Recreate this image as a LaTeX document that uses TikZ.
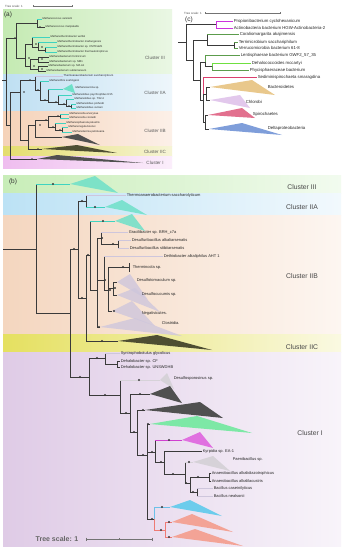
\documentclass[tikz,border=0pt]{standalone}
\usepackage{fontspec}
\setmainfont{Liberation Sans}
\usetikzlibrary{calc}
\definecolor{brc}{HTML}{3A3A3A}
\definecolor{cyl}{HTML}{3FD3C0}
\definecolor{cyt}{HTML}{6EE0C8}
\definecolor{lav}{HTML}{CEC6DC}
\definecolor{lgr}{HTML}{D6D2D8}
\definecolor{dkt}{HTML}{505050}
\definecolor{olv}{HTML}{4E4E32}
\definecolor{mgl}{HTML}{D040D0}
\definecolor{mgt}{HTML}{E070E0}
\definecolor{grt}{HTML}{7DE8A6}
\definecolor{cbt}{HTML}{6CCCEC}
\definecolor{cbl}{HTML}{6CC0E8}
\definecolor{rdl}{HTML}{EE7B74}
\definecolor{rdt}{HTML}{F3A396}
\definecolor{cmg}{HTML}{CC33DD}
\definecolor{cgr}{HTML}{5C9C4C}
\definecolor{cbg}{HTML}{6FE040}
\definecolor{crd}{HTML}{DA3F6E}
\definecolor{ctan}{HTML}{E9C88C}
\definecolor{clav}{HTML}{E2C8EC}
\definecolor{cpk}{HTML}{E2708E}
\definecolor{cblu}{HTML}{7F9EDA}
\definecolor{gAL}{HTML}{C4EAB2}\definecolor{gAR}{HTML}{EAF7E4}
\definecolor{bAL}{HTML}{BEDFF2}\definecolor{bAR}{HTML}{EEF6FB}
\definecolor{pAL}{HTML}{F5D2B8}\definecolor{pAR}{HTML}{FCF0E8}
\definecolor{yAL}{HTML}{E4DD6E}\definecolor{yAR}{HTML}{F6F4D6}
\definecolor{mAL}{HTML}{EFBDEF}\definecolor{mAR}{HTML}{FBEEFB}
\definecolor{gBL}{HTML}{C8EDB8}\definecolor{gBR}{HTML}{F2FBEF}
\definecolor{bBL}{HTML}{BCE2F5}\definecolor{bBR}{HTML}{F2F9FD}
\definecolor{pBL}{HTML}{F4D6BF}\definecolor{pBR}{HTML}{FDF6F1}
\definecolor{yBL}{HTML}{E5E060}\definecolor{yBR}{HTML}{FAF9E2}
\definecolor{mBL}{HTML}{DFCBE6}\definecolor{mBR}{HTML}{F8F4FA}
\newcommand\tedge[3]{\draw[br] (#2) |- (#3);\draw[br,#1] (#2|-#3) -- (#3);}
\newcommand\ttri[4]{\fill[#1] (#2) -- (#3) -- (#4) -- cycle;}
\newcommand\tdot[1]{\fill[brc] (#1) circle (\dotr);}
\newcommand\dotr{0.9}
\begin{document}
\begin{tikzpicture}[x=1pt,y=-1pt,
  br/.style={draw=brc,line width=0.45pt},
  la/.style={font=\fontsize{2.7}{3}\selectfont,anchor=west,inner sep=0.4pt,text=black!85},
  lb/.style={font=\fontsize{4}{4.5}\selectfont,anchor=west,inner sep=0.6pt,text=black!85},
  lc/.style={font=\fontsize{4.3}{5}\selectfont,anchor=west,inner sep=0.6pt,text=black!85},
  cla/.style={font=\fontsize{4.6}{5}\selectfont,text=black!65},
  clb/.style={font=\fontsize{6.8}{8}\selectfont,text=black!72},
  pl/.style={font=\fontsize{6.5}{8}\selectfont,text=black!80},
  tsc/.style={font=\fontsize{3}{3.5}\selectfont,text=black!70},
  sbar/.style={draw=black!55,line width=0.35pt}]
\useasboundingbox (0,0) rectangle (344,550);
\fill[white] (0,0) rectangle (344,550);
%================ PANEL (a) ================
\shade[left color=gAL,right color=gAR] (3,9) rectangle (172,74);
\shade[left color=bAL,right color=bAR] (3,74) rectangle (172,111);
\shade[left color=pAL,right color=pAR] (3,111) rectangle (172,146);
\shade[left color=yAL,right color=yAR] (3,146) rectangle (172,156);
\shade[left color=mAL,right color=mAR] (3,156) rectangle (172,168);
\node[tsc] (tsa) at (14,6) {Tree scale: 1};
\coordinate (tsa1) at (33,6); \coordinate (tsa2) at (72,6);
\draw[sbar] (tsa1) -- (tsa2);
\draw[sbar] (tsa1) ++(0,-1) -- ++(0,2); \draw[sbar] (tsa2) ++(0,-1) -- ++(0,2);
\node[pl] (pa) at (8,15) {(a)};
\node[cla] (ca3) at (155,58) {Cluster III};
\node[cla] (ca2a) at (155,93) {Cluster IIA};
\node[cla] (ca2b) at (155,131) {Cluster IIB};
\node[cla] (ca2c) at (155,152) {Cluster IIC};
\node[cla] (ca1) at (155,163) {Cluster I};
% tree (a)
\coordinate (ra0) at (2,80); \coordinate (ra) at (6,80);
\draw[br] (ra0) -- (ra);
\coordinate (a1) at (16,38); \coordinate (b1) at (10,125);
\draw[br] (ra) |- (a1); \draw[br] (ra) |- (b1);
\coordinate (a11) at (37,23); \coordinate (a12) at (25,58);
\draw[br] (a1) |- (a11); \draw[br] (a1) |- (a12);
\node[la] (l1) at (42,19) {Methanococcus vannielii};
\node[la] (l2) at (45,27) {Methanococcus maripaludis};
\tedge{cyl}{a11}{l1.west} \tedge{brc}{a11}{l2.west}
\coordinate (a121) at (32,44); \coordinate (a122) at (30,66);
\draw[br] (a12) |- (a121); \draw[br] (a12) |- (a122);
\node[la] (l3) at (50,37) {Methanothermobacter wolfeii};
\coordinate (a1211) at (38,47);
\tedge{cyl}{a121}{l3.west} \draw[br] (a121) |- (a1211);
\node[la] (l4) at (57,42) {Methanothermobacter marburgensis};
\coordinate (a12111) at (45,50);
\tedge{cyl}{a1211}{l4.west} \draw[br] (a1211) |- (a12111);
\node[la] (l5) at (57,47) {Methanothermobacter sp. CMTCaM1};
\node[la] (l6) at (57,52) {Methanothermobacter thermautotrophicus};
\tedge{cyl}{a12111}{l5.west} \tedge{cyl}{a12111}{l6.west}
\coordinate (a1221) at (38,59); \coordinate (a1222) at (38,69);
\draw[br] (a122) |- (a1221); \draw[br] (a122) |- (a1222);
\node[la] (l7) at (49,57) {Methanobacterium formicicum};
\node[la] (l8) at (49,62) {Methanobacterium sp. MB1};
\node[la] (l9) at (48,66) {Methanobacterium sp. MZ-A1};
\node[la] (l10) at (46,71) {Methanobacterium subterraneum};
\tedge{brc}{a1221}{l7.west} \tedge{brc}{a1221}{l8.west}
\tedge{brc}{a1222}{l9.west} \tedge{brc}{a1222}{l10.west}
\coordinate (ac) at (20,92); \coordinate (ad) at (37,159);
\draw[br] (b1) |- (ac); \draw[br] (b1) |- (ad);
\coordinate (ae) at (35,80); \coordinate (aL) at (28,140);
\draw[br] (ac) |- (ae); \draw[br] (ac) |- (aL);
\node[la] (l11) at (63,76) {Thermoanaerobacterium saccharolyticum};
\coordinate (af) at (40,90);
\tedge{lav}{ae}{l11.west} \draw[br] (ae) |- (af);
\node[la] (l12) at (49,81) {Methanothrix soehngenii};
\coordinate (ag) at (48,100);
\tedge{cyl}{af}{l12.west} \draw[br] (af) |- (ag);
\coordinate (amsar) at (63,89); \coordinate (ah) at (58,102);
\tedge{cyl}{ag}{amsar} \draw[br] (ag) |- (ah);
\ttri{cyt}{63,89}{72,84}{75,93}
\node[la] (l13) at (75,88) {Methanosarcina sp.};
\node[la] (l14) at (72,95) {Methanolobus psychrophilus R15};
\coordinate (ai) at (66,104);
\tedge{cyl}{ah}{l14.west} \draw[br] (ah) |- (ai);
\node[la] (l15) at (74,99) {Methanolobus sp. T82-4};
\coordinate (aj) at (71,106);
\tedge{cyl}{ai}{l15.west} \draw[br] (ai) |- (aj);
\node[la] (l16) at (76,104) {Methanolobus profundi};
\node[la] (l17) at (76,108) {Methanolobus vulcani};
\tedge{cyl}{aj}{l16.west} \tedge{cyl}{aj}{l17.west}
\coordinate (aiic) at (42,149); \coordinate (am) at (35,125);
\draw[br] (aL) |- (aiic); \draw[br] (aL) |- (am);
\coordinate (an) at (48,120); \coordinate (at23) at (62,137);
\draw[br] (am) |- (an); \draw[br] (am) |- (at23);
\coordinate (ao) at (60,116); \coordinate (ap) at (55,127);
\draw[br] (an) |- (ao); \draw[br] (an) |- (ap);
\node[la] (l18) at (69,114) {Methanocella arvoryzae};
\node[la] (l19) at (69,118) {Methanocella conradii};
\tedge{cyl}{ao}{l18.west} \tedge{cyl}{ao}{l19.west}
\node[la] (l20) at (66,123) {Methanosphaerula palustris};
\coordinate (aq) at (62,130);
\tedge{cyl}{ap}{l20.west} \draw[br] (ap) |- (aq);
\node[la] (l21) at (68,127) {Methanoregula boonei};
\node[la] (l22) at (72,132) {Methanolacinia petrolearia};
\tedge{cyl}{aq}{l21.west} \tedge{cyl}{aq}{l22.west}
\ttri{dkt}{62,137}{78,134}{100,145}
\ttri{olv}{42,149}{77,145}{117,153}
\ttri{dkt}{37,159}{57,155}{143,163}
\foreach \p in {{15,38},{40,27},{29,58},{36,44},{42,47},{34,66},{42,59},{42,69},{38,90},{45,100},{56,102},{64,104},{69,106},{38,149},{32,159},{40,125},{46,120},{53,127},{60,130},{24,92},{30,80},{58,116}} {\tdot{\p}}
%================ PANEL (c) ================
\node[pl] (pc) at (189,20) {(c)};
\node[tsc] (tsc1) at (193,13) {Tree scale: 1};
\coordinate (tsc2) at (205,13); \coordinate (tsc3) at (280,13);
\draw[sbar] (tsc2) -- (tsc3);
\draw[sbar] (tsc2) ++(0,-1) -- ++(0,2); \draw[sbar] (tsc3) ++(0,-1) -- ++(0,2);
\begin{scope}[br/.append style={line width=0.6pt}]
\coordinate (rc0) at (178,42); \coordinate (rc) at (186,42);
\draw[br] (rc0) -- (rc);
\coordinate (cca) at (216,24); \coordinate (ccb) at (193,60);
\draw[br] (rc) |- (cca); \draw[br] (rc) |- (ccb);
\node[lc] (c1) at (233,21) {Propionibacterium cyclohexanicum};
\node[lc] (c2) at (233,28) {Actinobacteria bacterium HGW-Actinobacteria-2};
\draw[br,cmg,line width=1pt] (cca) |- (c1.west); \draw[br,cmg,line width=1pt] (cca) |- (c2.west);
\coordinate (ccc) at (207,40); \coordinate (ccd) at (200,80);
\draw[br] (ccb) |- (ccc); \draw[br] (ccb) |- (ccd);
\node[lc] (c3) at (239,34) {Coraliomargarita akajimensis};
\coordinate (cce) at (234,45);
\tedge{cgr}{ccc}{c3.west} \draw[br] (ccc) |- (cce);
\node[lc] (c4) at (238,42) {Terrimicrobium sacchariphilum};
\node[lc] (c5) at (238,48) {Verrucomicrobia bacterium 61-8};
\tedge{cgr}{cce}{c4.west} \tedge{cgr}{cce}{c5.west}
\coordinate (ccf) at (205,62); \coordinate (ccg) at (203,100);
\draw[br] (ccd) |- (ccf); \draw[br] (ccd) |- (ccg);
\node[lc] (c6) at (240,55) {Lentisphaerae bacterium GWF2\_57\_35};
\coordinate (cch) at (212,66);
\draw[br,cgr,line width=1pt] (ccf) |- (c6.west); \draw[br] (ccf) |- (cch);
\node[lc] (c7) at (251,63) {Dehalococcoides mccartyi};
\node[lc] (c8) at (249,70) {Phycisphaeraceae bacterium};
\draw[br,cbg,line width=1pt] (cch) |- (c7.west); \draw[br,cgr,line width=1pt] (cch) |- (c8.west);
\node[lc] (c9) at (257,77) {Sediminispirochaeta smaragdina};
\coordinate (cci) at (206,94); \coordinate (ccj) at (205,122);
\draw[br,crd,line width=1pt] (ccg) |- (c9.west); \draw[br] (ccg) |- (cci); \draw[br] (ccg) |- (ccj);
\coordinate (cbac) at (210,87); \coordinate (cchl) at (210,100);
\coordinate (cspi) at (208,115); \coordinate (cdel) at (209,129);
\draw[br] (cci) |- (cbac); \draw[br] (cci) |- (cchl);
\draw[br] (ccj) |- (cspi); \draw[br] (ccj) |- (cdel);
\end{scope}
\ttri{ctan}{210,87}{252,80}{275,95}
\ttri{clav}{210,100}{240,95}{250,108}
\ttri{cpk}{208,115}{242,108}{255,118}
\ttri{cblu}{209,129}{242,123}{282,135}
\node[lc] (g1) at (267,87) {Bacteroidetes};
\node[lc] (g2) at (245,102) {Chlorobi};
\node[lc] (g3) at (252,114) {Spirochaetes};
\node[lc] (g4) at (267,128) {Deltaproteobacteria};
%================ PANEL (b) ================
\shade[left color=gBL,right color=gBR] (3,175) rectangle (341,193);
\shade[left color=bBL,right color=bBR] (3,193) rectangle (341,215);
\shade[left color=pBL,right color=pBR] (3,215) rectangle (341,334);
\shade[left color=yBL,right color=yBR] (3,334) rectangle (341,352);
\shade[left color=mBL,right color=mBR] (3,352) rectangle (341,546);
\node[pl] (pb) at (13,182) {(b)};
\node[clb] (cb3) at (302,187) {Cluster III};
\node[clb] (cb2a) at (302,207) {Cluster IIA};
\node[clb] (cb2b) at (302,276) {Cluster IIB};
\node[clb] (cb2c) at (302,347) {Cluster IIC};
\node[clb] (cb1) at (310,433) {Cluster I};
\begin{scope}[br/.append style={line width=0.65pt}]
\renewcommand\dotr{1.2}
\coordinate (rb0) at (3,249); \coordinate (rb) at (36,249);
\draw[br,line width=0.7pt] (rb0) -- (rb);
\coordinate (bc3) at (70,184); \coordinate (x1) at (36,313); \coordinate (x1b) at (70,313);
\tedge{cyl}{rb}{bc3} \draw[br] (rb) |- (x1);
\draw[br] (x1) -- (x1b);
\ttri{cyt,fill opacity=0.85}{70,184}{95,176}{118,193}
\coordinate (x2) at (78,249); \coordinate (x13) at (89,377);
\draw[br] (x1b) |- (x2); \draw[br] (x1b) |- (x13);
\coordinate (x3) at (86,201); \coordinate (x4) at (86,298);
\draw[br] (x2) |- (x3); \draw[br] (x2) |- (x4);
\node[lb] (bt1) at (126,195) {Thermoanaerobacterium saccharolyticum};
\coordinate (bciia) at (105,207);
\tedge{lav}{x3}{bt1.west} \tedge{cyl}{x3}{bciia}
\ttri{cyt,fill opacity=0.85}{105,207}{122,200}{147,215}
\coordinate (biic) at (118,341); \coordinate (x5) at (90,255);
\draw[br] (x4) |- (biic); \draw[br] (x4) |- (x5);
\ttri{olv}{118,341}{157,335}{212,350}
\coordinate (bcb2) at (115,221); \coordinate (x6) at (97,290);
\tedge{cyl}{x5}{bcb2} \draw[br] (x5) |- (x6);
\ttri{cyt,fill opacity=0.85}{115,221}{132,214}{145,231}
\coordinate (x7) at (101,238); \coordinate (x9) at (104,280); \coordinate (bcl) at (100,327);
\draw[br] (x6) |- (x7); \draw[br] (x6) |- (x9); \draw[br] (x6) |- (bcl);
\node[lb] (bgr) at (128,232) {Gracilibacter sp. BRH\_c7a};
\coordinate (x8) at (118,244);
\tedge{lav}{x7}{bgr.west} \draw[br] (x7) |- (x8);
\node[lb] (bd1) at (131,240) {Desulfuribacillus alkaliarsenatis};
\node[lb] (bd2) at (129,248) {Desulfuribacillus stibiiarsenatis};
\tedge{lav}{x8}{bd1.west} \tedge{lav}{x8}{bd2.west}
\node[lb] (bdt) at (163,256) {Dethiobacter alkaliphilus AHT 1};
\coordinate (x10) at (108,290);
\tedge{lav}{x9}{bdt.west} \draw[br] (x9) |- (x10);
\coordinate (bthm) at (129,267); \coordinate (x12) at (113,288); \coordinate (bneg) at (112,311);
\draw[br] (x10) |- (bthm); \draw[br] (x10) |- (x12); \draw[br] (x10) |- (bneg);
\draw[br] (bthm) ++(0,-4) -- ++(0,9);
\node[lb] (bth) at (132,267) {Thermincola sp.};
\coordinate (bdtm) at (117,282); \coordinate (bdcc) at (117,295);
\draw[br] (x12) |- (bdtm); \draw[br] (x12) |- (bdcc);
\ttri{lav,fill opacity=0.8}{117,282}{130,274}{148,300}
\ttri{lav,fill opacity=0.8}{117,295}{135,288}{160,312}
\ttri{lav,fill opacity=0.8}{112,311}{132,301}{155,326}
\ttri{lav,fill opacity=0.8}{100,327}{135,318}{182,336}
\node[lb] (bdtmt) at (136,280) {Desulfotomaculum sp.};
\node[lb] (bdcct) at (141,294) {Desulfocucumis sp.};
\node[lb] (bnegt) at (141,313) {Negativicutes.};
\node[lb] (bclt) at (161,323) {Clostridia.};
% cluster I
\coordinate (x14) at (105,358); \coordinate (x16) at (120,395);
\draw[br] (x13) |- (x14); \draw[br] (x13) |- (x16);
\node[lb] (bsy) at (120,353) {Syntrophobotulus glycolicus};
\coordinate (x15) at (117,364);
\tedge{lav}{x14}{bsy.west} \draw[br] (x14) |- (x15);
\node[lb] (bdh1) at (120,361) {Dehalobacter sp. CF};
\node[lb] (bdh2) at (120,367) {Dehalobacter sp. UNSWDHB};
\tedge{brc}{x15}{bdh1.west} \tedge{brc}{x15}{bdh2.west}
\coordinate (bds) at (160,380); \coordinate (x17) at (130,413);
\tedge{lgr}{x16}{bds} \draw[br] (x16) |- (x17);
\ttri{lgr}{160,380}{167,373}{174,389}
\node[lb] (bdst) at (173,378) {Desulfosporosinus sp.};
\coordinate (bdk1) at (150,394); \coordinate (x18) at (137,432);
\draw[br] (x17) |- (bdk1); \draw[br] (x17) |- (x18);
\ttri{dkt}{150,394}{170,386}{182,403}
\coordinate (bdk2) at (145,410); \coordinate (x19) at (147,455);
\draw[br] (x18) |- (bdk2); \draw[br] (x18) |- (x19);
\ttri{dkt}{145,410}{200,402}{223,418}
\coordinate (bgn) at (150,424); \coordinate (x20) at (155,452); \coordinate (x26) at (154,519);
\draw[br] (x19) |- (bgn); \draw[br] (x19) |- (x20); \draw[br] (x19) |- (x26);
\ttri{grt}{150,424}{197,416}{252,433}
\coordinate (bmg) at (182,440); \coordinate (x21) at (164,462);
\tedge{mgl}{x20}{bmg} \draw[br] (x20) |- (x21);
\ttri{mgt}{182,440}{200,432}{213,448}
\node[lb] (bky) at (202,451) {Kyrpidia sp. EA-1};
\coordinate (x22) at (185,474);
\tedge{brc}{x21}{bky.west} \draw[br] (x21) |- (x22);
\coordinate (bpb) at (193,462); \coordinate (x23) at (190,483);
\tedge{lgr}{x22}{bpb} \draw[br] (x22) |- (x23);
\ttri{lgr}{193,462}{213,456}{230,471}
\node[lb] (bpbt) at (232,459) {Paenibacillus sp.};
\coordinate (x24) at (209,477); \coordinate (x25) at (197,492);
\draw[br] (x23) |- (x24); \draw[br] (x23) |- (x25);
\node[lb] (ban1) at (211,473) {Anaerobacillus alkalidiazotrophicus};
\node[lb] (ban2) at (211,481) {Anaerobacillus alkalilacustris};
\tedge{brc}{x24}{ban1.west} \tedge{brc}{x24}{ban2.west}
\node[lb] (bbc1) at (213,488) {Bacillus caseinilyticus};
\node[lb] (bbc2) at (213,496) {Bacillus nealsonii};
\tedge{lav}{x25}{bbc1.west} \tedge{lav}{x25}{bbc2.west}
\coordinate (bcy) at (170,507); \coordinate (x27) at (165,530);
\draw[br,cbl] (x26) |- (bcy); \draw[br,rdl] (x26) |- (x27);
\ttri{cbt}{170,507}{190,500}{222,516}
\coordinate (br1) at (172,522); \coordinate (br2) at (172,537);
\draw[br,rdl] (x27) |- (br1); \draw[br,rdl] (x27) |- (br2);
\ttri{rdt}{172,522}{192,514}{233,532}
\ttri{rdt}{172,537}{195,529}{243,546}
\foreach \p in {{53,184},{74,249},{82,201},{95,207},{82,298},{102,341},{88,255},{103,221},{113,244},{123,267},{80,377},{97,358},{105,395},{126,413},{140,394},{134,432},{143,410},{143,455},{148,424},{152,452},{169,440},{161,462},{173,474},{189,462},{186,483},{198,477},{193,492},{152,519},{162,507},{161,530},{169,522},{169,537},{139,380},{102,238},{110,290},{105,280},{115,288},{99,327},{114,311}} {\tdot{\p}}
\end{scope}
% tree scale (b)
\node[font=\bfseries\fontsize{7}{8}\selectfont,text=black!60] (tsb) at (57,539) {Tree scale: 1};
\coordinate (tsb1) at (86,539); \coordinate (tsb2) at (152,539); \coordinate (tsbm) at (119,539);
\draw[sbar,line width=0.5pt] (tsb1) -- (tsb2);
\draw[sbar] (tsb1) ++(0,-1.5) -- ++(0,3); \draw[sbar] (tsb2) ++(0,-1.5) -- ++(0,3);
\draw[sbar] (tsbm) ++(0,-1) -- ++(0,1);
\end{tikzpicture}
\end{document}
